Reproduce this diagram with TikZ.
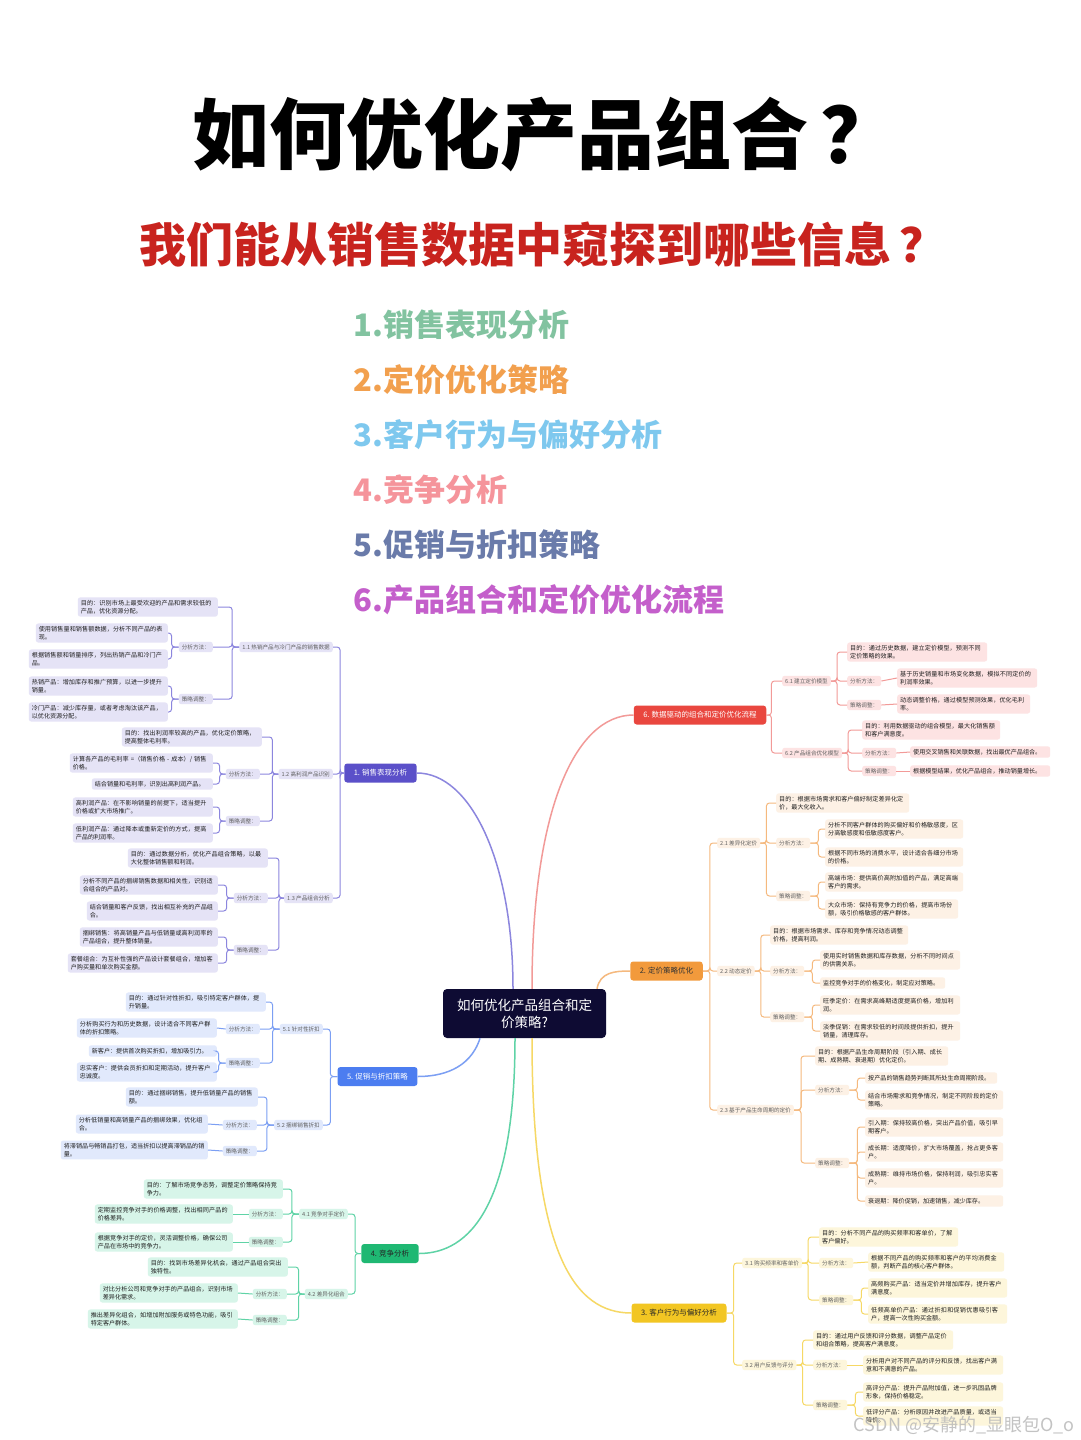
\documentclass[tikz,border=0pt]{standalone}
\usepackage{fontspec}
\setmainfont{Noto Sans CJK SC}
\XeTeXlinebreaklocale "zh"
\XeTeXlinebreakskip=0pt plus 0.5pt
\definecolor{cA}{HTML}{5B50C9}\definecolor{lA}{HTML}{8C86DE}\definecolor{fA}{HTML}{E5E3F6}
\definecolor{cB}{HTML}{4C7DF0}\definecolor{lB}{HTML}{7C9FF3}\definecolor{fB}{HTML}{E1E9FC}
\definecolor{cC}{HTML}{1FB873}\definecolor{lC}{HTML}{5FD3A6}\definecolor{fC}{HTML}{D7F5E9}
\definecolor{cD}{HTML}{E9473F}\definecolor{lD}{HTML}{F29A98}\definecolor{fD}{HTML}{FDE3E3}
\definecolor{cE}{HTML}{F29A3C}\definecolor{lE}{HTML}{F5B97E}\definecolor{fE}{HTML}{FDF1E5}
\definecolor{cF}{HTML}{F2C623}\definecolor{lF}{HTML}{F6D865}\definecolor{fF}{HTML}{FDF6DB}
\definecolor{navy}{HTML}{0E0B33}
\definecolor{subred}{HTML}{C8231E}
\definecolor{q1}{HTML}{82C3A0}\definecolor{q2}{HTML}{F2A04E}\definecolor{q3}{HTML}{7EC8EE}
\definecolor{q4}{HTML}{F5949B}\definecolor{q5}{HTML}{6A7BAA}\definecolor{q6}{HTML}{C45FCB}
\tikzset{
 lf/.style={fill=#1, rounded corners=2.5pt, font=\fontsize{6.1}{7.8}\selectfont, text=black!88, align=left, inner xsep=3pt, inner ysep=2.8pt},
 sb/.style={fill=#1, rounded corners=2.5pt, font=\fontsize{5.6}{6.6}\selectfont, text=black!62, inner xsep=3pt, inner ysep=2.6pt},
 brn/.style={fill=#1, rounded corners=3pt, font=\fontsize{7.5}{9}\selectfont, inner xsep=9.5pt, minimum height=19pt},
 L/.style={anchor=east}, R/.style={anchor=west},
 lk/.style={draw=#1, line width=1pt, rounded corners=3pt},
 mainc/.style={draw=#1, line width=1.5pt},
 listitem/.style={anchor=west, font=\fontsize{31}{34}\selectfont\bfseries, text=#1},
}
\begin{document}
\begin{tikzpicture}[x=1pt,y=-1pt]
\useasboundingbox (0,0) rectangle (1080,1440);
\fill[white] (0,0) rectangle (1080,1440);
% titles
\node[inner sep=0pt, font=\fontsize{77}{80}\selectfont\bfseries, text=black] (title) at (545,135) {如何优化产品组合\kern12pt？};
\node[inner sep=0pt, font=\fontsize{47}{50}\selectfont\bfseries, text=subred] (subtitle) at (543,245) {我们能从销售数据中窥探到哪些信息\kern8pt？};
\node[listitem=q1] (i1) at (350,325) {1.销售表现分析};
\node[listitem=q2] (i2) at (350,380) {2.定价优化策略};
\node[listitem=q3] (i3) at (350,435) {3.客户行为与偏好分析};
\node[listitem=q4] (i4) at (350,490) {4.竞争分析};
\node[listitem=q5] (i5) at (350,545) {5.促销与折扣策略};
\node[listitem=q6] (i6) at (350,600) {6.产品组合和定价优化流程};

% center
\node[fill=navy, rounded corners=4pt, text=white, align=center, minimum width=163pt, minimum height=49pt, font=\fontsize{13.5}{17}\selectfont] (c) at (524.5,1013.5) {如何优化产品组合和定\\价策略?};

% branch nodes
\node[brn=cA, text=white] (b1) at (380.5,773) {1. 销售表现分析};
\node[brn=cB, text=white] (b5) at (377.5,1076.5) {5. 促销与折扣策略};
\node[brn=cC, text=black!85] (b4) at (390,1253.5) {4. 竞争分析};
\node[brn=cD, text=white] (b6) at (700,715) {6. 数据驱动的组合和定价优化流程};
\node[brn=cE, text=black!80] (b2) at (666.5,971) {2. 定价策略优化};
\node[brn=cF, text=black!85] (b3) at (679,1313) {3. 客户行为与偏好分析};

% main connectors
\draw[mainc=lA] ([xshift=-11.5pt]c.north) .. controls (513,860) and (470,773) .. (b1.east);
\draw[mainc=lD] ([xshift=7.5pt]c.north) .. controls (532,810) and (575,715) .. (b6.west);
\draw[mainc=lE] ([xshift=72.5pt]c.north) .. controls (600,972) and (615,971) .. (b2.west);
\draw[mainc=lB] ([xshift=-44.5pt]c.south) .. controls (470,1070) and (440,1076.5) .. (b5.east);
\draw[mainc=lC] ([xshift=-9.5pt]c.south) .. controls (515,1205) and (470,1253.5) .. (b4.east);
\draw[mainc=lF] ([xshift=7.5pt]c.south) .. controls (532,1255) and (575,1313) .. (b3.west);

%================ Branch 1
\node[sb=fA,L] (s11) at (333,647) {1.1 热销产品与冷门产品的销售数据};
\node[sb=fA,L] (s12) at (333,774) {1.2 高利润产品识别};
\node[sb=fA,L] (s13) at (333,898) {1.3 产品组合分析};
\foreach \n in {s11,s12,s13} \draw[lk=lA] (b1.west) -- ++(-4,0) |- (\n.east);
\node[lf=fA,L,text width=134pt] (g11) at (218,607) {目的：识别市场上最受欢迎的产品和需求较低的产品，优化资源分配。};
\node[sb=fA,L] (m11) at (213,647) {分析方法：};
\node[sb=fA,L] (t11) at (213,699) {策略调整：};
\foreach \n in {g11,m11,t11} \draw[lk=lA] (s11.west) -- ++(-7,0) |- (\n.east);
\node[lf=fA,L,text width=126pt] (m11a) at (168,633) {使用销售量和销售额数据，分析不同产品的表现。};
\node[lf=fA,L,text width=133pt] (m11b) at (168,659) {根据销售额和销量排序，列出热销产品和冷门产品。};
\node[lf=fA,L,text width=133pt] (t11a) at (168,686) {热销产品：增加库存和推广预算，以进一步提升销量。};
\node[lf=fA,L,text width=133pt] (t11b) at (168,712) {冷门产品：减少库存量，或者考虑淘汰该产品，以优化资源分配。};
\foreach \n in {m11a,m11b} \draw[lk=lA] (m11.west) -- ++(-7,0) |- (\n.east);
\foreach \n in {t11a,t11b} \draw[lk=lA] (t11.west) -- ++(-7,0) |- (\n.east);

\node[lf=fA,L,text width=134pt] (g12) at (262,737) {目的：找出利润率较高的产品，优化定价策略，提高整体毛利率。};
\node[sb=fA,L] (m12) at (260,774) {分析方法：};
\node[sb=fA,L] (t12) at (260,821) {策略调整：};
\foreach \n in {g12,m12,t12} \draw[lk=lA] (s12.west) -- ++(-6,0) |- (\n.east);
\node[lf=fA,L,text width=137pt] (m12a) at (213,763) {计算各产品的毛利率 =（销售价格 - 成本）/ 销售价格。};
\node[lf=fA,L,text width=115pt] (m12b) at (213,784) {结合销量和毛利率，识别出高利润产品。};
\node[lf=fA,L,text width=134pt] (t12a) at (213,807) {高利润产品：在不影响销量的前提下，适当提升价格或扩大市场推广。};
\node[lf=fA,L,text width=134pt] (t12b) at (213,833) {低利润产品：通过降本或重新定价的方式，提高产品的利润率。};
\foreach \n in {m12a,m12b} \draw[lk=lA] (m12.west) -- ++(-6,0) |- (\n.east);
\foreach \n in {t12a,t12b} \draw[lk=lA] (t12.west) -- ++(-6,0) |- (\n.east);

\node[lf=fA,L,text width=134pt] (g13) at (268,858) {目的：通过数据分析，优化产品组合策略，以最大化整体销售额和利润。};
\node[sb=fA,L] (m13) at (268,898) {分析方法：};
\node[sb=fA,L] (t13) at (268,950) {策略调整：};
\foreach \n in {g13,m13,t13} \draw[lk=lA] (s13.west) -- ++(-5,0) |- (\n.east);
\node[lf=fA,L,text width=132pt] (m13a) at (218,885) {分析不同产品的捆绑销售数据和相关性，识别适合组合的产品对。};
\node[lf=fA,L,text width=125pt] (m13b) at (218,911) {结合销量和客户反馈，找出相互补充的产品组合。};
\node[lf=fA,L,text width=132pt] (t13a) at (218,937) {捆绑销售：将高销量产品与低销量或高利润率的产品组合，提升整体销量。};
\node[lf=fA,L,text width=144pt] (t13b) at (218,963) {套餐组合：为互补性强的产品设计套餐组合，增加客户购买量和单次购买金额。};
\foreach \n in {m13a,m13b} \draw[lk=lA] (m13.west) -- ++(-7,0) |- (\n.east);
\foreach \n in {t13a,t13b} \draw[lk=lA] (t13.west) -- ++(-7,0) |- (\n.east);

%================ Branch 5
\node[sb=fB,L] (s51) at (323,1029) {5.1 针对性折扣};
\node[sb=fB,L] (s52) at (323,1125) {5.2 捆绑销售折扣};
\foreach \n in {s51,s52} \draw[lk=lB] (b5.west) -- ++(-7,0) |- (\n.east);
\node[lf=fB,L,text width=134pt] (g51) at (266,1002) {目的：通过针对性折扣，吸引特定客户群体，提升销量。};
\node[sb=fB,L] (m51) at (260,1029) {分析方法：};
\node[sb=fB,L] (t51) at (260,1063) {策略调整：};
\foreach \n in {g51,m51,t51} \draw[lk=lB] (s51.west) -- ++(-7,0) |- (\n.east);
\node[lf=fB,L,text width=134pt] (m51a) at (217,1028) {分析购买行为和历史数据，设计适合不同客户群体的折扣策略。};
\node[lf=fB,L,text width=122pt] (t51a) at (217,1051) {新客户：提供首次购买折扣，增加吸引力。};
\node[lf=fB,L,text width=134pt] (t51b) at (217,1072) {忠实客户：提供会员折扣和定期活动，提升客户忠诚度。};
\draw[lk=lB] (m51.west) -- (m51a.east);
\foreach \n in {t51a,t51b} \draw[lk=lB] (t51.west) -- ++(-7,0) |- (\n.east);
\node[lf=fB,L,text width=126pt] (g52) at (258,1097) {目的：通过捆绑销售，提升低销量产品的销售额。};
\node[sb=fB,L] (m52) at (257,1125) {分析方法：};
\node[sb=fB,L] (t52) at (257,1151) {策略调整：};
\foreach \n in {g52,m52,t52} \draw[lk=lB] (s52.west) -- ++(-7,0) |- (\n.east);
\node[lf=fB,L,text width=126pt] (m52a) at (208,1124) {分析低销量和高销量产品的捆绑效果，优化组合。};
\node[lf=fB,L,text width=141pt] (t52a) at (208,1150) {将滞销品与畅销品打包，适当折扣以提高滞销品的销量。};
\draw[lk=lB] (m52.west) -- (m52a.east);
\draw[lk=lB] (t52.west) -- (t52a.east);

%================ Branch 4
\node[sb=fC,L] (s41) at (348,1214) {4.1 竞争对手定价};
\node[sb=fC,L] (s42) at (348,1294) {4.2 差异化组合};
\foreach \n in {s41,s42} \draw[lk=lC] (b4.west) -- ++(-6,0) |- (\n.east);
\node[lf=fC,L,text width=133pt] (g41) at (283,1189) {目的：了解市场竞争态势，调整定价策略保持竞争力。};
\node[sb=fC,L] (m41) at (283,1214) {分析方法：};
\node[sb=fC,L] (t41) at (283,1242) {策略调整：};
\foreach \n in {g41,m41,t41} \draw[lk=lC] (s41.west) -- ++(-7,0) |- (\n.east);
\node[lf=fC,L,text width=132pt] (m41a) at (233,1214) {定期监控竞争对手的价格调整，找出相同产品的价格差异。};
\node[lf=fC,L,text width=132pt] (t41a) at (233,1242) {根据竞争对手的定价，灵活调整价格，确保公司产品在市场中的竞争力。};
\draw[lk=lC] (m41.west) -- (m41a.east);
\draw[lk=lC] (t41.west) -- (t41a.east);
\node[lf=fC,L,text width=134pt] (g42) at (288,1267) {目的：找到市场差异化机会，通过产品组合突出独特性。};
\node[sb=fC,L] (m42) at (287,1294) {分析方法：};
\node[sb=fC,L] (t42) at (287,1320) {策略调整：};
\foreach \n in {g42,m42,t42} \draw[lk=lC] (s42.west) -- ++(-6,0) |- (\n.east);
\node[lf=fC,L,text width=132pt] (m42a) at (238,1293) {对比分析公司和竞争对手的产品组合，识别市场差异化需求。};
\node[lf=fC,L,text width=144pt] (t42a) at (238,1319) {推出差异化组合，如增加附加服务或特色功能，吸引特定客户群体。};
\draw[lk=lC] (m42.west) -- (m42a.east);
\draw[lk=lC] (t42.west) -- (t42a.east);

%================ Branch 6
\node[sb=fD,R] (s61) at (782,681) {6.1 建立定价模型};
\node[sb=fD,R] (s62) at (782,753) {6.2 产品组合优化模型};
\foreach \n in {s61,s62} \draw[lk=lD] (b6.east) -- ++(5,0) |- (\n.west);
\node[lf=fD,R,text width=134pt] (g61) at (847,652) {目的：通过历史数据，建立定价模型，预测不同定价策略的效果。};
\node[sb=fD,R] (m61) at (847,681) {分析方法：};
\node[sb=fD,R] (t61) at (847,705) {策略调整：};
\foreach \n in {g61,m61,t61} \draw[lk=lD] (s61.east) -- ++(6,0) |- (\n.west);
\node[lf=fD,R,text width=134pt] (m61a) at (897,678) {基于历史销量和市场变化数据，模拟不同定价的利润率效果。};
\node[lf=fD,R,text width=127pt] (t61a) at (897,704) {动态调整价格，通过模型预测效果，优化毛利率。};
\draw[lk=lD] (m61.east) -- (m61a.west);
\draw[lk=lD] (t61.east) -- (t61a.west);
\node[lf=fD,R,text width=132pt] (g62) at (862,730) {目的：利用数据驱动的组合模型，最大化销售额和客户满意度。};
\node[sb=fD,R] (m62) at (862,753) {分析方法：};
\node[sb=fD,R] (t62) at (862,771) {策略调整：};
\foreach \n in {g62,m62,t62} \draw[lk=lD] (s62.east) -- ++(6,0) |- (\n.west);
\node[lf=fD,R,text width=134pt] (m62a) at (910,752) {使用交叉销售和关联数据，找出最优产品组合。};
\node[lf=fD,R,text width=134pt] (t62a) at (910,771) {根据模型结果，优化产品组合，推动销量增长。};
\draw[lk=lD] (m62.east) -- (m62a.west);
\draw[lk=lD] (t62.east) -- (t62a.west);

%================ Branch 2
\node[sb=fE,R] (s21) at (717,843) {2.1 差异化定价};
\node[sb=fE,R] (s22) at (717,971) {2.2 动态定价};
\node[sb=fE,R] (s23) at (717,1110) {2.3 基于产品生命周期的定价};
\foreach \n in {s21,s22,s23} \draw[lk=lE] (b2.east) -- ++(7,0) |- (\n.west);
\node[lf=fE,R,text width=127pt] (g21) at (776,803) {目的：根据市场需求和客户偏好制定差异化定价，最大化收入。};
\node[sb=fE,R] (m21) at (776,843) {分析方法：};
\node[sb=fE,R] (t21) at (776,896) {策略调整：};
\foreach \n in {g21,m21,t21} \draw[lk=lE] (s21.east) -- ++(6,0) |- (\n.west);
\node[lf=fE,R,text width=132pt] (m21a) at (825,829) {分析不同客户群体的购买偏好和价格敏感度，区分高敏感度和低敏感度客户。};
\node[lf=fE,R,text width=132pt] (m21b) at (825,857) {根据不同市场的消费水平，设计适合各细分市场的价格。};
\node[lf=fE,R,text width=132pt] (t21a) at (825,882) {高端市场：提供高价高附加值的产品，满足高端客户的需求。};
\node[lf=fE,R,text width=127pt] (t21b) at (825,909) {大众市场：保持有竞争力的价格，提高市场份额，吸引价格敏感的客户群体。};
\foreach \n in {m21a,m21b} \draw[lk=lE] (m21.east) -- ++(8,0) |- (\n.west);
\foreach \n in {t21a,t21b} \draw[lk=lE] (t21.east) -- ++(8,0) |- (\n.west);
\node[lf=fE,R,text width=132pt] (g22) at (770,935) {目的：根据市场需求、库存和竞争情况动态调整价格，提高利润。};
\node[sb=fE,R] (m22) at (770,971) {分析方法：};
\node[sb=fE,R] (t22) at (770,1017) {策略调整：};
\foreach \n in {g22,m22,t22} \draw[lk=lE] (s22.east) -- ++(6,0) |- (\n.west);
\node[lf=fE,R,text width=134pt] (m22a) at (820,960) {使用实时销售数据和库存数据，分析不同时间点的供需关系。};
\node[lf=fE,R,text width=119pt] (m22b) at (820,983) {监控竞争对手的价格变化，制定应对策略。};
\node[lf=fE,R,text width=134pt] (t22a) at (820,1005) {旺季定价：在需求高峰期适度提高价格，增加利润。};
\node[lf=fE,R,text width=134pt] (t22b) at (820,1031) {淡季促销：在需求较低的时间段提供折扣，提升销量，清理库存。};
\foreach \n in {m22a,m22b} \draw[lk=lE] (m22.east) -- ++(8,0) |- (\n.west);
\foreach \n in {t22a,t22b} \draw[lk=lE] (t22.east) -- ++(8,0) |- (\n.west);
\node[lf=fE,R,text width=127pt] (g23) at (815,1056) {目的：根据产品生命周期阶段（引入期、成长期、成熟期、衰退期）优化定价。};
\node[sb=fE,R] (m23) at (815,1090) {分析方法：};
\node[sb=fE,R] (t23) at (815,1163) {策略调整：};
\foreach \n in {g23,m23,t23} \draw[lk=lE] (s23.east) -- ++(7,0) |- (\n.west);
\node[lf=fE,R,text width=126pt] (m23a) at (865,1078) {按产品的销售趋势判断其所处生命周期阶段。};
\node[lf=fE,R,text width=132pt] (m23b) at (865,1100) {结合市场需求和竞争情况，制定不同阶段的定价策略。};
\node[lf=fE,R,text width=132pt] (t23a) at (865,1127) {引入期：保持较高价格，突出产品价值，吸引早期客户。};
\node[lf=fE,R,text width=132pt] (t23b) at (865,1152) {成长期：适度降价，扩大市场覆盖，抢占更多客户。};
\node[lf=fE,R,text width=132pt] (t23c) at (865,1178) {成熟期：维持市场价格，保持利润，吸引忠实客户。};
\node[lf=fE,R,text width=132pt] (t23d) at (865,1201) {衰退期：降价促销，加速销售，减少库存。};
\foreach \n in {m23a,m23b} \draw[lk=lE] (m23.east) -- ++(8,0) |- (\n.west);
\foreach \n in {t23a,t23b,t23c,t23d} \draw[lk=lE] (t23.east) -- ++(8,0) |- (\n.west);

%================ Branch 3
\node[sb=fF,R] (s31) at (742,1263) {3.1 购买频率和客单价};
\node[sb=fF,R] (s32) at (742,1365) {3.2 用户反馈与评分};
\foreach \n in {s31,s32} \draw[lk=lF] (b3.east) -- ++(7,0) |- (\n.west);
\node[lf=fF,R,text width=133pt] (g31) at (819,1237) {目的：分析不同产品的购买频率和客单价，了解客户偏好。};
\node[sb=fF,R] (m31) at (819,1263) {分析方法：};
\node[sb=fF,R] (t31) at (819,1300) {策略调整：};
\foreach \n in {g31,m31,t31} \draw[lk=lF] (s31.east) -- ++(6,0) |- (\n.west);
\node[lf=fF,R,text width=130pt] (m31a) at (868,1262) {根据不同产品的购买频率和客户的平均消费金额，判断产品的核心客户群体。};
\node[lf=fF,R,text width=133pt] (t31a) at (868,1288) {高频购买产品：适当定价并增加库存，提升客户满意度。};
\node[lf=fF,R,text width=133pt] (t31b) at (868,1314) {低频高单价产品：通过折扣和促销优惠吸引客户，提高一次性购买金额。};
\draw[lk=lF] (m31.east) -- (m31a.west);
\foreach \n in {t31a,t31b} \draw[lk=lF] (t31.east) -- ++(8,0) |- (\n.west);
\node[lf=fF,R,text width=134pt] (g32) at (813,1340) {目的：通过用户反馈和评分数据，调整产品定价和组合策略，提高客户满意度。};
\node[sb=fF,R] (m32) at (813,1365) {分析方法：};
\node[sb=fF,R] (t32) at (813,1405) {策略调整：};
\foreach \n in {g32,m32,t32} \draw[lk=lF] (s32.east) -- ++(6,0) |- (\n.west);
\node[lf=fF,R,text width=134pt] (m32a) at (863,1365) {分析用户对不同产品的评分和反馈，找出客户满意和不满意的产品。};
\node[lf=fF,R,text width=134pt] (t32a) at (863,1392) {高评分产品：提升产品附加值，进一步巩固品牌形象，保持价格稳定。};
\node[lf=fF,R,text width=134pt] (t32b) at (863,1416) {低评分产品：分析原因并改进产品质量，或适当降价。};
\draw[lk=lF] (m32.east) -- (m32a.west);
\foreach \n in {t32a,t32b} \draw[lk=lF] (t32.east) -- ++(8,0) |- (\n.west);

% watermark
\node[anchor=east, font=\fontsize{18}{20}\selectfont, text=gray!55, opacity=0.85] (wm) at (1078,1425) {CSDN @安静的\_显眼包O\_o};
\end{tikzpicture}
\end{document}
